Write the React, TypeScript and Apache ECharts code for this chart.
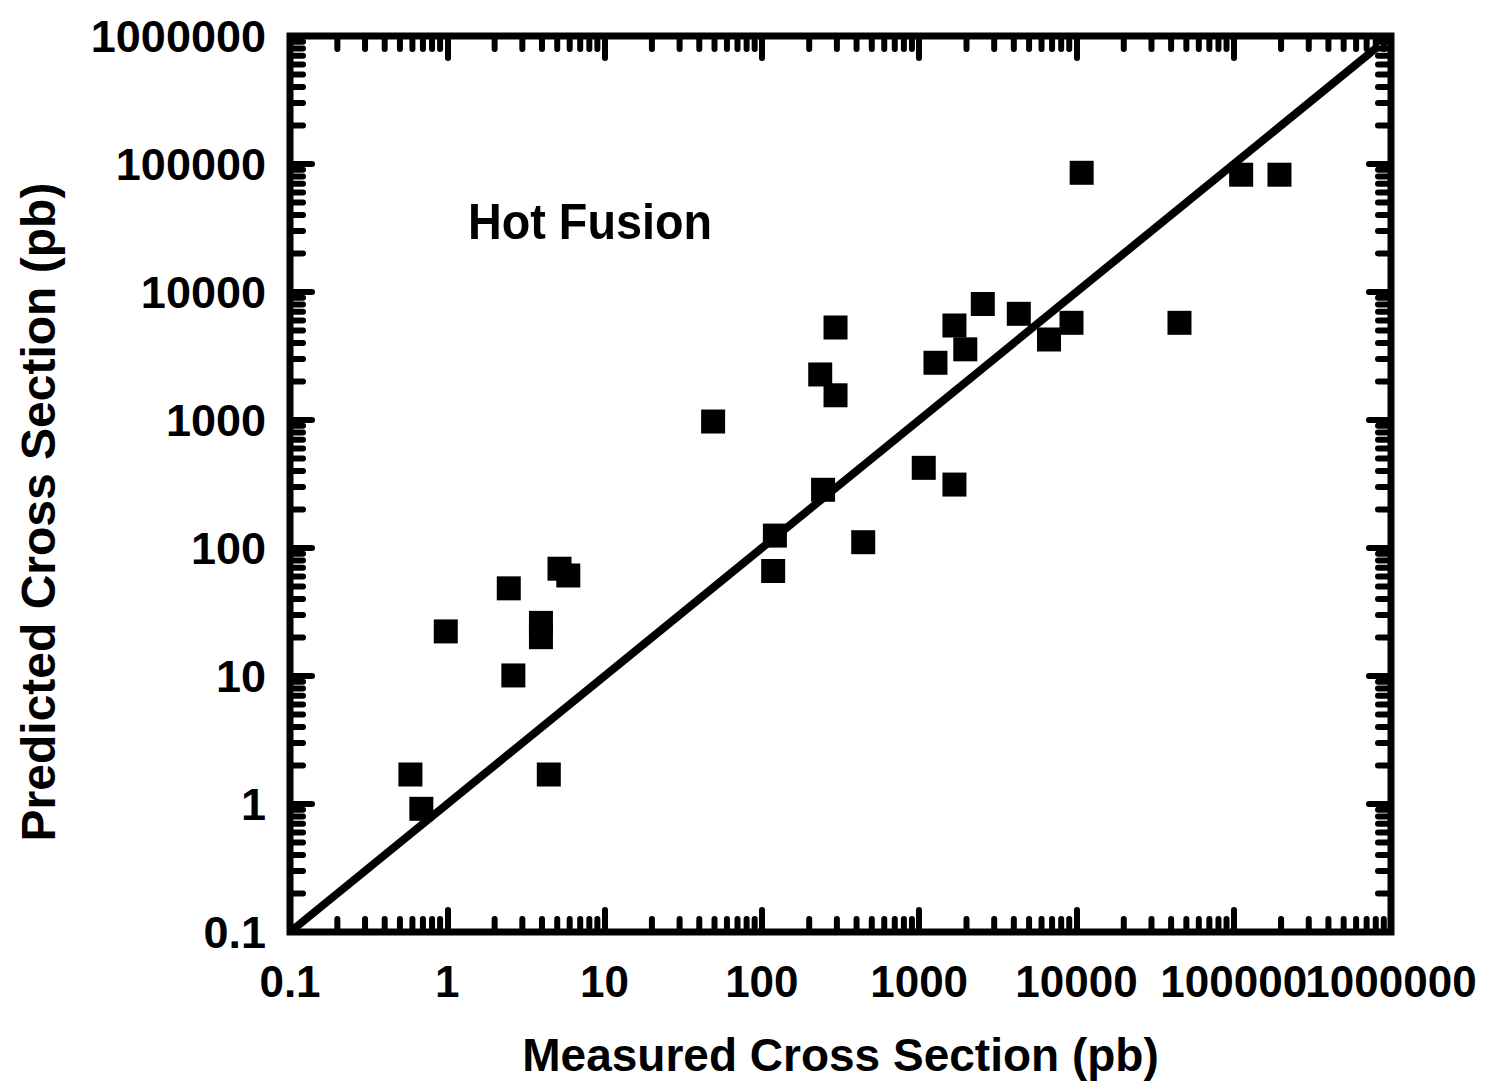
import React, { useEffect, useRef } from "react";
import * as echarts from "echarts";

// ---- data ----
const measured = [
  0.583, 0.684, 0.978, 2.46, 2.63, 3.94, 3.94, 4.42, 5.17, 5.88,
  49.0, 118, 121, 235, 245, 294, 294, 441, 1070, 1270,
  1677, 1677, 1965, 2539, 4300, 6692, 9303, 10800, 45200, 111500, 195400,
];
const predicted = [
  1.70, 0.917, 22.3, 48.4, 10.1, 26.0, 20.1, 1.70, 68.9, 61.0,
  973, 66.1, 125, 2268, 285, 1560, 5280, 111, 423, 2799,
  313, 5473, 3566, 8058, 6755, 4256, 5745, 85380, 5745, 82480, 82480,
];
const lineX = [0.1, 800000];
const lineY = [0.1, 800000];

const AXIS_MIN = 0.1;
const AXIS_MAX = 1000000;
const tickLabels = ["0.1", "1", "10", "100", "1000", "10000", "100000", "1000000"];
const decadeStarts = [0.1, 1, 10, 100, 1000, 10000, 100000];
const minorSteps = [2, 3, 4, 5, 6, 7, 8, 9];

const xTitle = "Measured Cross Section (pb)";
const yTitle = "Predicted Cross Section (pb)";
const annotation = "Hot Fusion";

const FONT = "'Liberation Sans', Arial, sans-serif";

export default function App() {
  const ref = useRef<HTMLDivElement>(null);
  useEffect(() => {
    if (!ref.current) return;
    const chart = echarts.init(ref.current, null, { renderer: "svg" });

    const minorVals: number[] = [];
    decadeStarts.forEach((d) => minorSteps.forEach((s) => minorVals.push(d * s)));
    const minorData: number[][] = [];
    minorVals.forEach((v) => minorData.push([v, v, 0]));
    minorVals.forEach((v) => minorData.push([v, v, 1]));
    // the last x tick label, drawn separately so that it is not hidden by the overlap check
    minorData.push([AXIS_MAX, AXIS_MIN, 2]);

    const labelFmt = (v: number) => {
      const i = Math.round(Math.log10(v)) + 1;
      return tickLabels[i] ?? "";
    };

    const axisCommon = {
      type: "log" as const,
      logBase: 10,
      min: AXIS_MIN,
      max: AXIS_MAX,
      splitLine: { show: false },
      axisLine: { show: false },
      axisTick: {
        show: true,
        inside: true,
        length: 22,
        lineStyle: { color: "#000", width: 6, cap: "round" },
      },
    };

    const MINOR_LEN = 13;
    const X_LABEL_SIZE = 44;
    const X_LABEL_MARGIN = 27;

    chart.setOption({
      animation: false,
      backgroundColor: "#fff",
      grid: {
        left: 290,
        right: 98,
        top: 36,
        bottom: 159,
        show: true,
        borderColor: "#000",
        borderWidth: 7,
        backgroundColor: "transparent",
      },
      xAxis: [
        {
          ...axisCommon,
          position: "bottom",
          axisLabel: {
            formatter: labelFmt,
            color: "#000",
            fontFamily: FONT,
            fontWeight: "bold",
            fontSize: X_LABEL_SIZE,
            margin: X_LABEL_MARGIN,
            showMinLabel: true,
            showMaxLabel: false,
          },
          name: xTitle,
          nameLocation: "middle",
          nameGap: 100,
          nameTextStyle: { color: "#000", fontFamily: FONT, fontWeight: "bold", fontSize: 46 },
        },
        {
          ...axisCommon,
          position: "top",
          axisLabel: { show: false },
        },
      ],
      yAxis: [
        {
          ...axisCommon,
          position: "left",
          axisLabel: {
            formatter: labelFmt,
            color: "#000",
            fontFamily: FONT,
            fontWeight: "bold",
            fontSize: 45,
            margin: 24,
            showMinLabel: true,
            showMaxLabel: true,
          },
        },
        {
          ...axisCommon,
          position: "right",
          axisLabel: { show: false },
        },
      ],
      graphic: [
        {
          type: "text",
          x: 468,
          y: 196,
          scaleX: 0.935,
          style: {
            text: annotation,
            fill: "#000",
            font: `bold 50px ${FONT}`,
          },
        },
        {
          type: "text",
          x: 38,
          y: 512,
          rotation: Math.PI / 2,
          style: {
            text: yTitle,
            fill: "#000",
            font: `bold 48px ${FONT}`,
            align: "center",
            verticalAlign: "middle",
          },
        },
      ],
      series: [
        {
          type: "custom",
          silent: true,
          clip: false,
          xAxisIndex: 0,
          yAxisIndex: 0,
          encode: { x: 0, y: 1 },
          data: minorData,
          renderItem: (params: any, api: any) => {
            const v = api.value(0);
            const kind = api.value(2);
            const style = { stroke: "#000", lineWidth: 6, lineCap: "round" };
            if (kind === 2) {
              const p = api.coord([api.value(0), api.value(1)]);
              return {
                type: "text",
                x: p[0],
                y: p[1] + X_LABEL_MARGIN,
                style: {
                  text: labelFmt(v),
                  fill: "#000",
                  font: `bold ${X_LABEL_SIZE}px ${FONT}`,
                  align: "center",
                  verticalAlign: "top",
                },
              };
            }
            if (kind === 0) {
              const b = api.coord([v, AXIS_MIN]);
              const t = api.coord([v, AXIS_MAX]);
              return {
                type: "group",
                children: [
                  { type: "line", shape: { x1: b[0], y1: b[1], x2: b[0], y2: b[1] - MINOR_LEN }, style },
                  { type: "line", shape: { x1: t[0], y1: t[1], x2: t[0], y2: t[1] + MINOR_LEN }, style },
                ],
              };
            }
            const l = api.coord([AXIS_MIN, v]);
            const r = api.coord([AXIS_MAX, v]);
            return {
              type: "group",
              children: [
                { type: "line", shape: { x1: l[0], y1: l[1], x2: l[0] + MINOR_LEN, y2: l[1] }, style },
                { type: "line", shape: { x1: r[0], y1: r[1], x2: r[0] - MINOR_LEN, y2: r[1] }, style },
              ],
            };
          },
        },
        {
          type: "line",
          data: lineX.map((x, i) => [x, lineY[i]]),
          symbol: "none",
          lineStyle: { color: "#000", width: 8 },
          silent: true,
        },
        {
          type: "scatter",
          data: measured.map((x, i) => [x, predicted[i]]),
          symbol: "rect",
          symbolSize: 24,
          itemStyle: { color: "#000", opacity: 1 },
        },
      ],
    });
    return () => chart.dispose();
  }, []);

  return (
    <div
      ref={ref}
      style={{ position: "absolute", left: 0, top: 0, width: 1489, height: 1091 }}
    />
  );
}
